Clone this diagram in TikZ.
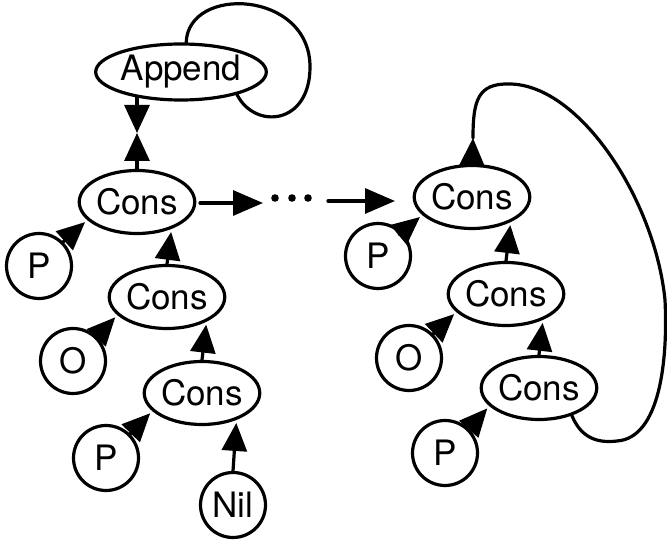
\documentclass[tikz,border=0pt]{standalone}
\usepackage{fontspec}
\setmainfont{TeX Gyre Heros}
\usetikzlibrary{arrows.meta, shapes.geometric, positioning}

\begin{document}
\begin{tikzpicture}[x=1pt, y=-1pt, line cap=round, line width=3.2pt,
        every node/.style={draw, line width=3.2pt, inner sep=0pt, font=\fontsize{35}{38}\selectfont},
        cell/.style={ellipse, minimum width=99pt, minimum height=63pt},
        fun/.style={ellipse, minimum width=158pt, minimum height=56pt},
        atom/.style={circle, minimum size=65pt},
        ptr/.style={-{Triangle[length=28pt, width=25pt]}, shorten >=3pt},
        step arrow/.style={-{Triangle[length=30pt, width=25pt]}}]
        \useasboundingbox (0,0) rectangle (667,540);
        %\draw [step=20, very thin, lightgray] (0,0) grid (667,540);
        % left term
        \node[fun] (append) at (181,72) {Append};
        \node[cell] (c1) at (137,202) {Cons};
        \node[atom] (p1) at (39,266) {P};
        \node[cell] (c2) at (167,297) {Cons};
        \node[atom] (o1) at (73,361) {O};
        \node[cell] (c3) at (202,393) {Cons};
        \node[atom] (p2) at (106,458) {P};
        \node[atom] (nil) at (233,505) {Nil};
        \coordinate (amid) at (137,133);
        \draw[ptr, shorten >=0pt] (c1.north) -- (amid);
        \draw[ptr, shorten >=0pt] (c1.north |- append.208) -- (amid);
        \draw (append.80) .. controls (188,-15) and (310,-10) .. (310,67)
            .. controls (310,125) and (255,130) .. (append.338);
        \draw[ptr] (p1.45) -- (c1.200);
        \draw[ptr] (c2.north) -- (c1.322);
        \draw[ptr] (o1.45) -- (c2.200);
        \draw[ptr] (c3.north) -- (c2.328);
        \draw[ptr] (p2.45) -- (c3.200);
        \draw[ptr] (nil.north) -- (c3.322);
        % rewriting steps
        \coordinate (s1) at (200,203);
        \coordinate (s2) at (263,203);
        \coordinate (s3) at (328,201);
        \coordinate (s4) at (395,201);
        \draw[step arrow] (s1) -- (s2);
        \foreach \x in {275,292,308}
            \fill (\x,198) circle (3.8pt);
        \draw[step arrow] (s3) -- (s4);
        % right term
        \node[cell] (r1) at (472,197) {Cons};
        \node[atom] (q1) at (378,256) {P};
        \node[cell] (r2) at (506,294) {Cons};
        \node[atom] (q2) at (409,358) {O};
        \node[cell] (r3) at (539,388) {Cons};
        \node[atom] (q3) at (445,453) {P};
        \coordinate (rtop) at (473,138);
        \draw[ptr, shorten >=0pt] (r1.north) -- (rtop);
        \draw (r3.320) .. controls (582,440) and (600,443) .. (617,441)
            .. controls (660,438) and (668,360) .. (665,300)
            .. controls (655,200) and (580,85) .. (510,84)
            .. controls (478,83) and (473,100) .. (rtop);
        \draw[ptr] (q1.45) -- (r1.200);
        \draw[ptr] (r2.north) -- (r1.327);
        \draw[ptr] (q2.45) -- (r2.200);
        \draw[ptr] (r3.north) -- (r2.325);
        \draw[ptr] (q3.45) -- (r3.200);
\end{tikzpicture}
\end{document}
